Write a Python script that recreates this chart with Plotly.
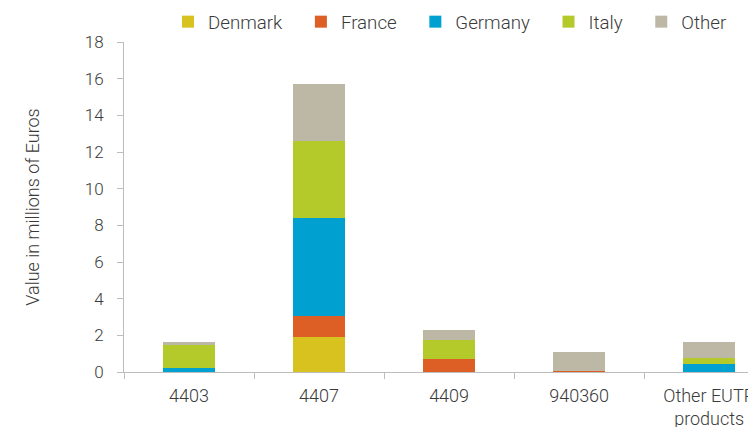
import plotly.graph_objects as go

categories = ["4403", "4407", "4409", "940360", "Other EUTR<br>products"]
denmark = [0.0, 1.93, 0.0, 0.0, 0.0]
france = [0.0, 1.10, 0.70, 0.05, 0.0]
germany = [0.20, 5.39, 0.0, 0.0, 0.43]
italy = [1.28, 4.16, 1.05, 0.0, 0.33]
other = [0.17, 3.15, 0.53, 1.05, 0.86]

series = [
    ("Denmark", denmark, "#D8C21F"),
    ("France", france, "#DD5F26"),
    ("Germany", germany, "#00A0D0"),
    ("Italy", italy, "#B4CA2A"),
    ("Other", other, "#BDB8A5"),
]

FONT = "Roboto"
TXT = "#3a3a3a"
pad = "\u00a0\u00a0\u00a0"

# page body has an 8px margin; figure is sized so it ends at the window edge
W, H = 748, 419

fig = go.Figure()
for name, vals, col in series:
    fig.add_trace(go.Bar(
        x=categories, y=vals, name=name + pad,
        marker=dict(color=col, line=dict(width=0)),
    ))

fig.update_layout(
    width=W, height=H,
    margin=dict(l=116, r=0, t=34, b=55),
    barmode="stack", bargap=0.6,
    paper_bgcolor="white", plot_bgcolor="white",
    font=dict(family=FONT, size=18, color=TXT, weight=300),
    showlegend=True,
    legend=dict(
        orientation="h", xref="container", yref="container",
        x=160 / W, xanchor="left", y=1 - 14 / H, yanchor="middle",
        font=dict(family=FONT, size=18.7, color=TXT, weight=300),
        traceorder="normal", itemclick=False,
    ),
    xaxis=dict(
        range=[-0.5, 4.36], showgrid=False, showline=True,
        linecolor="#bdbdbd", linewidth=1,
        ticks="outside", ticklen=6, tickcolor="#bdbdbd",
        tickson="boundaries", ticklabelstandoff=7,
        tickfont=dict(family=FONT, size=18, color=TXT, weight=300),
        fixedrange=True, automargin=False,
    ),
    yaxis=dict(
        range=[0, 18], dtick=2, showgrid=False, showline=True,
        linecolor="#bdbdbd", linewidth=1, zeroline=False,
        ticks="outside", ticklen=6, tickcolor="#bdbdbd",
        ticklabelstandoff=10,
        tickfont=dict(family=FONT, size=17, color=TXT, weight=300),
        title=dict(text="Value in millions of Euros", standoff=40,
                   font=dict(family=FONT, size=18, color=TXT, weight=300)),
        automargin=False,
    ),
)

fig.write_html("out.html")
